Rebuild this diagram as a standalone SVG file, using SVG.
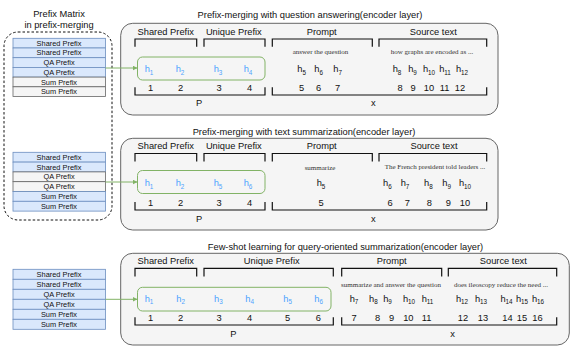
<svg xmlns="http://www.w3.org/2000/svg" width="581" height="354" viewBox="0 0 581 354">
<defs>
<style>
.t{font-family:"Liberation Sans",Arial,sans-serif;font-size:9.3px;fill:#111;text-anchor:middle;dominant-baseline:central}
.k{font-family:"Liberation Sans",Arial,sans-serif;font-size:7.4px;fill:#111;text-anchor:middle;dominant-baseline:central}
.s{font-family:"Liberation Serif","Times New Roman",serif;font-size:7px;fill:#333;text-anchor:middle;dominant-baseline:central}
.h{fill:#4da3ff}
.sub{font-size:6.3px}
.br{fill:none;stroke:#111;stroke-width:1.2}
.panel{fill:#f5f5f5;stroke:#666;stroke-width:1}
.gb{fill:none;stroke:#82b366;stroke-width:1}
.blue{fill:#dae8fc;stroke:#6c8ebf;stroke-width:0.8}
.gray{fill:#f5f5f5;stroke:#666;stroke-width:0.8}
.con{fill:none;stroke:#82b366;stroke-width:1}
</style>
<marker id="ah" viewBox="0 0 10 10" refX="9" refY="5" markerWidth="5" markerHeight="5" orient="auto" markerUnits="userSpaceOnUse">
<path d="M0,0 L10,5 L0,10 z" fill="#82b366"/>
</marker>
</defs>

<g id="prefix-matrix">
<text class="t" x="59" y="14">Prefix Matrix</text>
<text class="t" x="59" y="25">in prefix-merging</text>
<rect x="4" y="32" width="108" height="188" rx="14" fill="none" stroke="#111" stroke-width="1" stroke-dasharray="2.5 2"/>
</g>

<g id="stack-1">
<rect class="blue" x="13" y="38.3" width="92.5" height="9.7"/>
<rect class="blue" x="13" y="48" width="92.5" height="9.7"/>
<rect class="blue" x="13" y="57.7" width="92.5" height="9.7"/>
<rect class="blue" x="13" y="67.4" width="92.5" height="9.7"/>
<rect class="gray" x="13" y="77.1" width="92.5" height="9.7"/>
<rect class="gray" x="13" y="86.8" width="92.5" height="9.7"/>
<text class="k" x="59" y="43.2">Shared Prefix</text>
<text class="k" x="59" y="52.9">Shared Prefix</text>
<text class="k" x="59" y="62.6">QA Prefix</text>
<text class="k" x="59" y="72.3">QA Prefix</text>
<text class="k" x="59" y="82">Sum Prefix</text>
<text class="k" x="59" y="91.7">Sum Prefix</text>
</g>

<g id="stack-2">
<rect class="blue" x="13" y="152.3" width="92.5" height="9.8"/>
<rect class="blue" x="13" y="162.1" width="92.5" height="9.8"/>
<rect class="gray" x="13" y="171.9" width="92.5" height="9.8"/>
<rect class="gray" x="13" y="181.7" width="92.5" height="9.8"/>
<rect class="blue" x="13" y="191.5" width="92.5" height="9.8"/>
<rect class="blue" x="13" y="201.3" width="92.5" height="9.8"/>
<text class="k" x="59" y="157.2">Shared Prefix</text>
<text class="k" x="59" y="167">Shared Prefix</text>
<text class="k" x="59" y="176.8">QA Prefix</text>
<text class="k" x="59" y="186.6">QA Prefix</text>
<text class="k" x="59" y="196.4">Sum Prefix</text>
<text class="k" x="59" y="206.2">Sum Prefix</text>
</g>

<g id="stack-3">
<rect class="blue" x="13" y="269.3" width="92.5" height="10"/>
<rect class="blue" x="13" y="279.3" width="92.5" height="10"/>
<rect class="blue" x="13" y="289.3" width="92.5" height="10"/>
<rect class="blue" x="13" y="299.3" width="92.5" height="10"/>
<rect class="blue" x="13" y="309.3" width="92.5" height="10"/>
<rect class="blue" x="13" y="319.3" width="92.5" height="10"/>
<text class="k" x="59" y="274.3">Shared Prefix</text>
<text class="k" x="59" y="284.3">Shared Prefix</text>
<text class="k" x="59" y="294.3">QA Prefix</text>
<text class="k" x="59" y="304.3">QA Prefix</text>
<text class="k" x="59" y="314.3">Sum Prefix</text>
<text class="k" x="59" y="324.3">Sum Prefix</text>
</g>

<g id="panel-1">
<text class="t" x="310" y="15">Prefix-merging with question answering(encoder layer)</text>
<rect class="panel" x="120.7" y="23.3" width="377.3" height="91.7" rx="12"/>
<text class="t" x="165.7" y="31.7">Shared Prefix</text>
<text class="t" x="233.8" y="31.7">Unique Prefix</text>
<text class="t" x="321.7" y="31.7">Prompt</text>
<text class="t" x="433.3" y="31.7">Source text</text>
<path class="br" d="M135,46.7V39H196.7V46.7M204,46.7V39H265V46.7M272.3,46.7V39H372.3V46.7M379,46.7V39H486.7V46.7"/>
<text class="s" x="320.5" y="52">answer the question</text>
<text class="s" x="432" y="52">how graphs are encoded as ...</text>
<rect class="gb" x="137.5" y="57" width="127.5" height="23" rx="5"/>
<text class="t h" x="149" y="69">h<tspan class="sub" dy="2.5">1</tspan></text>
<text class="t h" x="180" y="69">h<tspan class="sub" dy="2.5">2</tspan></text>
<text class="t h" x="218" y="69">h<tspan class="sub" dy="2.5">3</tspan></text>
<text class="t h" x="248" y="69">h<tspan class="sub" dy="2.5">4</tspan></text>
<text class="t" x="301.7" y="69">h<tspan class="sub" dy="2.5">5</tspan></text>
<text class="t" x="318.7" y="69">h<tspan class="sub" dy="2.5">6</tspan></text>
<text class="t" x="337.7" y="69">h<tspan class="sub" dy="2.5">7</tspan></text>
<text class="t" x="397" y="69">h<tspan class="sub" dy="2.5">8</tspan></text>
<text class="t" x="412.5" y="69">h<tspan class="sub" dy="2.5">9</tspan></text>
<text class="t" x="429" y="69">h<tspan class="sub" dy="2.5">10</tspan></text>
<text class="t" x="445" y="69">h<tspan class="sub" dy="2.5">11</tspan></text>
<text class="t" x="462" y="69">h<tspan class="sub" dy="2.5">12</tspan></text>
<text class="t" x="150.7" y="88">1</text>
<text class="t" x="180.7" y="88">2</text>
<text class="t" x="219" y="88">3</text>
<text class="t" x="249.7" y="88">4</text>
<text class="t" x="301.7" y="88">5</text>
<text class="t" x="318.7" y="88">6</text>
<text class="t" x="337.7" y="88">7</text>
<text class="t" x="400" y="88">8</text>
<text class="t" x="413" y="88">9</text>
<text class="t" x="429" y="88">10</text>
<text class="t" x="444.5" y="88">11</text>
<text class="t" x="460" y="88">12</text>
<path class="br" d="M135,87.3V95H265V87.3M272.3,87.3V95H486.7V87.3"/>
<text class="t" x="199" y="103.3">P</text>
<text class="t" x="373.3" y="103">x</text>
</g>

<g id="panel-2">
<text class="t" x="304" y="131.5">Prefix-merging with text summarization(encoder layer)</text>
<rect class="panel" x="120.7" y="138.3" width="377.3" height="91.7" rx="12"/>
<text class="t" x="165.7" y="146">Shared Prefix</text>
<text class="t" x="233.8" y="146">Unique Prefix</text>
<text class="t" x="321.7" y="146">Prompt</text>
<text class="t" x="434" y="146">Source text</text>
<path class="br" d="M135,161.5V153.5H196.7V161.5M204,161.5V153.5H265V161.5M272.3,161.5V153.5H372.3V161.5M379,161.5V153.5H486.7V161.5"/>
<text class="s" x="320" y="167.5">summarize</text>
<text class="s" x="435" y="167">The French president told leaders ...</text>
<rect class="gb" x="137.5" y="170.5" width="127.5" height="23" rx="5"/>
<text class="t h" x="149" y="183">h<tspan class="sub" dy="2.5">1</tspan></text>
<text class="t h" x="180" y="183">h<tspan class="sub" dy="2.5">2</tspan></text>
<text class="t h" x="218" y="183">h<tspan class="sub" dy="2.5">5</tspan></text>
<text class="t h" x="248" y="183">h<tspan class="sub" dy="2.5">6</tspan></text>
<text class="t" x="321" y="183">h<tspan class="sub" dy="2.5">5</tspan></text>
<text class="t" x="387.3" y="183">h<tspan class="sub" dy="2.5">6</tspan></text>
<text class="t" x="405" y="183">h<tspan class="sub" dy="2.5">7</tspan></text>
<text class="t" x="428.3" y="183">h<tspan class="sub" dy="2.5">8</tspan></text>
<text class="t" x="446.7" y="183">h<tspan class="sub" dy="2.5">9</tspan></text>
<text class="t" x="465" y="183">h<tspan class="sub" dy="2.5">10</tspan></text>
<text class="t" x="150.7" y="203">1</text>
<text class="t" x="180.7" y="203">2</text>
<text class="t" x="219" y="203">3</text>
<text class="t" x="249.7" y="203">4</text>
<text class="t" x="321" y="203">5</text>
<text class="t" x="390" y="203">6</text>
<text class="t" x="407.3" y="203">7</text>
<text class="t" x="429.3" y="203">8</text>
<text class="t" x="448.3" y="203">9</text>
<text class="t" x="465" y="203">10</text>
<path class="br" d="M135,202V210H265V202M272.3,202V210H486.7V202"/>
<text class="t" x="199" y="219">P</text>
<text class="t" x="373.3" y="218.5">x</text>
</g>

<g id="panel-3">
<text class="t" x="345.5" y="246.7">Few-shot learning for query-oriented summarization(encoder layer)</text>
<rect class="panel" x="120.7" y="253.3" width="448.6" height="91.7" rx="12"/>
<text class="t" x="165.7" y="261">Shared Prefix</text>
<text class="t" x="271.7" y="261">Unique Prefix</text>
<text class="t" x="391.7" y="261">Prompt</text>
<text class="t" x="503.3" y="261">Source text</text>
<path class="br" d="M135,276.5V268.3H196.7V276.5M204,276.5V268.3H333.3V276.5M341.7,276.5V268.3H441.7V276.5M448.3,276.5V268.3H556.7V276.5"/>
<text class="s" x="391" y="285">summarize and answer the question</text>
<text class="s" x="501" y="285">does ileoscopy reduce the need ...</text>
<rect class="gb" x="137.5" y="287.3" width="193.5" height="23.7" rx="5"/>
<text class="t h" x="149" y="298.5">h<tspan class="sub" dy="2.5">1</tspan></text>
<text class="t h" x="180.7" y="298.5">h<tspan class="sub" dy="2.5">2</tspan></text>
<text class="t h" x="218.3" y="298.5">h<tspan class="sub" dy="2.5">3</tspan></text>
<text class="t h" x="249.7" y="298.5">h<tspan class="sub" dy="2.5">4</tspan></text>
<text class="t h" x="287.7" y="298.5">h<tspan class="sub" dy="2.5">5</tspan></text>
<text class="t h" x="318.7" y="298.5">h<tspan class="sub" dy="2.5">6</tspan></text>
<text class="t" x="354" y="298.5">h<tspan class="sub" dy="2.5">7</tspan></text>
<text class="t" x="373.3" y="298.5">h<tspan class="sub" dy="2.5">8</tspan></text>
<text class="t" x="387.5" y="298.5">h<tspan class="sub" dy="2.5">9</tspan></text>
<text class="t" x="409" y="298.5">h<tspan class="sub" dy="2.5">10</tspan></text>
<text class="t" x="427.5" y="298.5">h<tspan class="sub" dy="2.5">11</tspan></text>
<text class="t" x="462" y="298.5">h<tspan class="sub" dy="2.5">12</tspan></text>
<text class="t" x="481" y="298.5">h<tspan class="sub" dy="2.5">13</tspan></text>
<text class="t" x="506.5" y="298.5">h<tspan class="sub" dy="2.5">14</tspan></text>
<text class="t" x="522" y="298.5">h<tspan class="sub" dy="2.5">15</tspan></text>
<text class="t" x="538" y="298.5">h<tspan class="sub" dy="2.5">16</tspan></text>
<text class="t" x="150.7" y="317.5">1</text>
<text class="t" x="180.7" y="317.5">2</text>
<text class="t" x="219" y="317.5">3</text>
<text class="t" x="249.7" y="317.5">4</text>
<text class="t" x="287.7" y="317.5">5</text>
<text class="t" x="318.3" y="317.5">6</text>
<text class="t" x="354" y="317.5">7</text>
<text class="t" x="377.7" y="317.5">8</text>
<text class="t" x="391.7" y="317.5">9</text>
<text class="t" x="408.3" y="317.5">10</text>
<text class="t" x="426.7" y="317.5">11</text>
<text class="t" x="463" y="317.5">12</text>
<text class="t" x="483" y="317.5">13</text>
<text class="t" x="507.5" y="317.5">14</text>
<text class="t" x="522" y="317.5">15</text>
<text class="t" x="537.5" y="317.5">16</text>
<path class="br" d="M135,317.3V325H333.3V317.3M341.7,317.3V325H556.7V317.3"/>
<text class="t" x="233.3" y="334">P</text>
<text class="t" x="452.7" y="334">x</text>
</g>

<g id="connectors">
<path class="con" d="M105.5,68H137" marker-end="url(#ah)"/>
<path class="con" d="M105.5,182H137" marker-end="url(#ah)"/>
<path class="con" d="M105.5,299.3H137" marker-end="url(#ah)"/>
</g>
</svg>
